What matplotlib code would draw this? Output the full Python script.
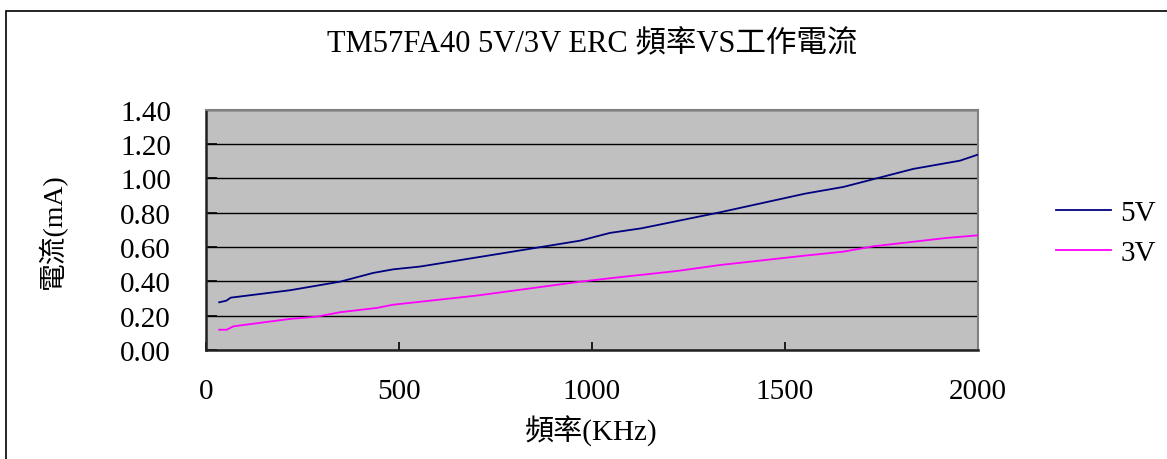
import matplotlib
matplotlib.use("Agg")
import matplotlib.pyplot as plt
from matplotlib.patches import Rectangle

plt.rcParams['font.family'] = ['Liberation Serif', 'Noto Sans CJK TC', 'DejaVu Sans']

title = "TM57FA40 5V/3V ERC 頻率VS工作電流"
xlabel = "頻率(KHz)"
ylabel = "電流(mA)"

freq_5v = [35, 53, 65, 218, 348, 434, 486, 555, 762, 970, 1047, 1129, 1332, 1553, 1652, 1833, 1954, 2000]
cur_5v = [0.278, 0.287, 0.305, 0.348, 0.398, 0.449, 0.470, 0.486, 0.561, 0.637, 0.682, 0.709, 0.802, 0.911, 0.950, 1.055, 1.103, 1.138]

freq_3v = [35, 54, 72, 218, 287, 348, 443, 486, 702, 970, 1047, 1220, 1332, 1553, 1652, 1729, 1920, 2000]
cur_3v = [0.118, 0.118, 0.138, 0.181, 0.194, 0.220, 0.245, 0.264, 0.317, 0.398, 0.418, 0.460, 0.495, 0.550, 0.573, 0.604, 0.653, 0.668]

xticks = [0, 500, 1000, 1500, 2000]
yticks = [0.0, 0.2, 0.4, 0.6, 0.8, 1.0, 1.2, 1.4]

W, H = 1167, 460
fig = plt.figure(figsize=(W / 100, H / 100), dpi=100)
fig.patch.set_facecolor('white')

# outer chart border
fig.add_artist(Rectangle((5.5 / W, -0.1), 1.2, 1 - 12 / H + 0.1, transform=fig.transFigure,
                         fill=False, edgecolor='black', linewidth=1.2))

left, right = 205.7 / W, 977.7 / W
bottom, top = 1 - 351 / H, 1 - 110.7 / H
ax = fig.add_axes([left, bottom, right - left, top - bottom])
ax.set_facecolor('#C0C0C0')

ax.set_xlim(0, 2000)
ax.set_ylim(0, 1.4)
ax.set_xticks(xticks)
ax.set_yticks(yticks)
ax.set_yticklabels([f"{v:.2f}" for v in yticks])
ax.grid(axis='y', color='black', linewidth=1.0)
ax.set_axisbelow(True)

ax.plot(freq_5v, cur_5v, color='#000080', linewidth=1.3, label='5V', zorder=3)
ax.plot(freq_3v, cur_3v, color='#FF00FF', linewidth=1.3, label='3V', zorder=3)

for s in ['top', 'right']:
    ax.spines[s].set_color('#808080')
    ax.spines[s].set_linewidth(1.5)
for s in ['left', 'bottom']:
    ax.spines[s].set_color('#202020')
    ax.spines[s].set_linewidth(1.8)

ax.tick_params(axis='x', direction='in', length=6, width=1.2, pad=20, labelsize=21)
ax.tick_params(axis='y', direction='in', length=8, width=1.2, pad=25, labelsize=21)

ax.set_title(title, fontsize=22, pad=42)
ax.set_xlabel(xlabel, fontsize=21, labelpad=8)
ax.set_ylabel(ylabel, fontsize=20, labelpad=38)

fig.legend(loc='center left', bbox_to_anchor=(1056 / W, 1 - 234 / H), frameon=False,
           fontsize=21, handlelength=1.9, handletextpad=0.3, labelspacing=0.45,
           borderaxespad=0, borderpad=0)

fig.savefig('out.png', dpi=100)
